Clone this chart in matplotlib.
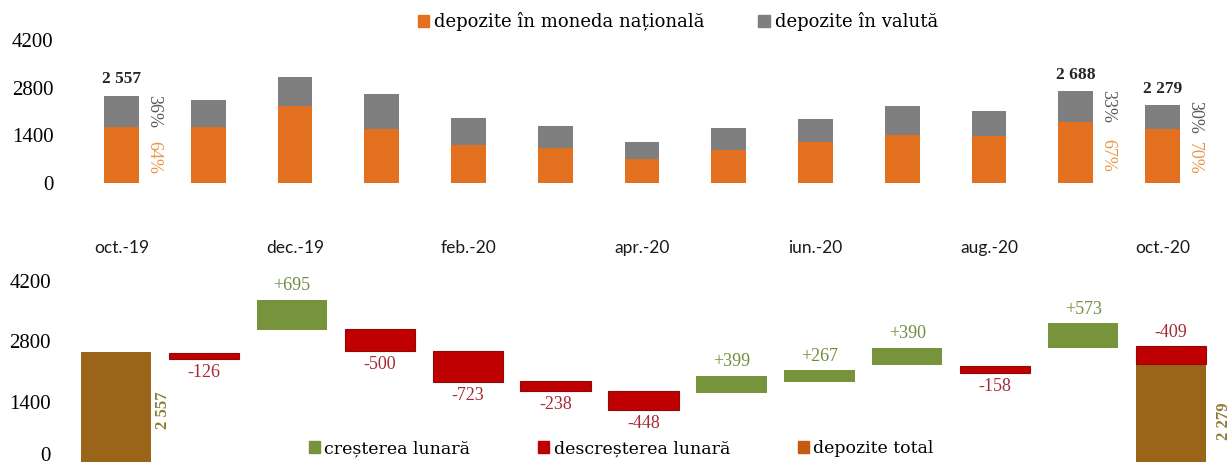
import matplotlib.pyplot as plt
from matplotlib.patches import Patch
from matplotlib.transforms import ScaledTranslation

luni = ["oct.-19", "nov.-19", "dec.-19", "ian.-20", "feb.-20", "mar.-20", "apr.-20",
        "mai-20", "iun.-20", "iul.-20", "aug.-20", "sep.-20", "oct.-20"]
total = [2557, 2431, 3126, 2626, 1903, 1665, 1217, 1616, 1883, 2273, 2115, 2688, 2279]
moneda_nationala = [1636, 1650, 2250, 1580, 1125, 1040, 710, 980, 1190, 1420, 1390, 1801, 1595]
valuta = [t - m for t, m in zip(total, moneda_nationala)]
marcate = [0, 11, 12]

# waterfall: monthly changes and the hidden base series
variatii = [-126, 695, -500, -723, -238, -448, 399, 267, 390, -158, 573, -409]
baza = [2395, 3070, 2581, 1860, 1651, 1209, 1605, 1860, 2256, 2070, 2651, 2279]
start_total = 2557
final_total = 2279

c_orange = "#E3701E"
c_gray = "#7F7F7F"
c_green = "#77933C"
c_red = "#C00000"
c_brown = "#9A6419"

serif = "Liberation Serif"

fig = plt.figure(figsize=(12.3, 4.68), dpi=100)

# ---- top panel: stacked bars
ax1 = fig.add_axes([62 / 1230, 1 - 183 / 468, 1153 / 1230, 143 / 468])
x = list(range(len(luni)))
ax1.bar(x, moneda_nationala, width=0.4, color=c_orange)
ax1.bar(x, valuta, width=0.4, bottom=moneda_nationala, color=c_gray)
ax1.set_xlim(-0.686, 12.605)
ax1.set_ylim(0, 4200)
ax1.set_yticks([0, 1400, 2800, 4200])
ax1.set_xticks(x[::2])
ax1.set_xticklabels(luni[::2], family="Lato", fontsize=12.5, color="#1a1a1a")
ax1.tick_params(axis="x", length=0, pad=41)
ax1.tick_params(axis="y", length=0, pad=6, labelsize=15)
for lbl in ax1.get_yticklabels():
    lbl.set_family(serif)
for s in ax1.spines.values():
    s.set_visible(False)

for i in marcate:
    t = total[i]
    ax1.text(i, t + 250, f"{t:,}".replace(",", " "), ha="center", va="bottom",
             family=serif, fontsize=12.5, fontweight="bold", color="#262626")
    p_nat = round(moneda_nationala[i] / t * 100)
    ax1.text(i + 0.37, moneda_nationala[i] + valuta[i] / 2, f"{100 - p_nat}%", rotation=-90,
             ha="center", va="center", family=serif, fontsize=13, color="#595959")
    ax1.text(i + 0.37, moneda_nationala[i] * 0.45, f"{p_nat}%", rotation=-90,
             ha="center", va="center", family=serif, fontsize=13, color="#E8954A")

fig.legend(handles=[Patch(color=c_orange), Patch(color=c_gray)],
           labels=["depozite în moneda națională", "depozite în valută"],
           loc="center", bbox_to_anchor=(0.551, 0.953), ncol=2, frameon=False,
           handlelength=0.65, handleheight=0.65, handletextpad=0.25, columnspacing=3.0,
           prop={"family": "DejaVu Serif", "size": 13})

# ---- bottom panel: waterfall
ax2 = fig.add_axes([62 / 1230, 1 - 462 / 468, 1153 / 1230, 181 / 468])
ax2.bar(0, start_total, width=0.8, color=c_brown)
ax2.bar(12, final_total, width=0.8, color=c_brown)
for k, (v, b) in enumerate(zip(variatii, baza)):
    xi = k + 1
    if v > 0:
        ax2.bar(xi, v, width=0.8, bottom=b, color=c_green)
        ax2.annotate(f"+{v}", (xi, b + v), xytext=(0, 4), textcoords="offset points",
                     ha="center", va="bottom", family=serif, fontsize=13, color="#6F8C3E")
    else:
        ax2.bar(xi, -v, width=0.8, bottom=b, color=c_red, edgecolor="#8E0A0A", linewidth=0.8)
        if xi == 12:
            ax2.annotate(f"{v}", (xi, b - v), xytext=(0, 4), textcoords="offset points",
                         ha="center", va="bottom", family=serif, fontsize=13, color="#A52A35")
        else:
            ax2.annotate(f"{v}", (xi, b), xytext=(0, -4), textcoords="offset points",
                         ha="center", va="top", family=serif, fontsize=13, color="#A52A35")

ax2.text(0.54, start_total * 0.47, f"{start_total:,}".replace(",", " "), rotation=90,
         ha="center", va="center", family=serif, fontsize=12, fontweight="bold", color="#8E7D35")
ax2.text(12.6, final_total * 0.42, f"{final_total:,}".replace(",", " "), rotation=90,
         ha="center", va="center", family=serif, fontsize=12, fontweight="bold",
         color="#8E7D35", clip_on=False)

ax2.set_xlim(-0.614, 12.5)
ax2.set_ylim(0, 4200)
ax2.set_yticks([0, 1400, 2800, 4200])
ax2.set_xticks([])
ax2.tick_params(axis="y", length=0, pad=8, labelsize=15)
for lbl in ax2.get_yticklabels():
    lbl.set_family(serif)
# the "0" label sits a little higher than the baseline in the original
zero_lbl = ax2.get_yticklabels()[0]
zero_lbl.set_transform(zero_lbl.get_transform() + ScaledTranslation(0, 8 / 100, fig.dpi_scale_trans))
for s in ax2.spines.values():
    s.set_visible(False)

fig.legend(handles=[Patch(color=c_green), Patch(color=c_red), Patch(color="#C55A11")],
           labels=["creșterea lunară", "descreșterea lunară", "depozite total"],
           loc="center", bbox_to_anchor=(0.505, 0.041), ncol=3, frameon=False,
           handlelength=0.65, handleheight=0.65, handletextpad=0.25, columnspacing=3.9,
           prop={"family": "DejaVu Serif", "size": 12.5})

fig.savefig("out.png", dpi=100)
